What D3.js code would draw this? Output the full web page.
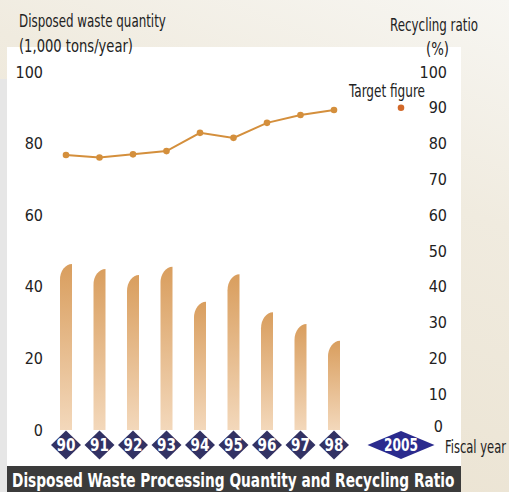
<!DOCTYPE html>
<html>
<head>
<meta charset="utf-8">
<script src="https://cdn.jsdelivr.net/npm/d3@7"></script>
<style>
  body { margin: 0; padding: 0; background: #f1ebde; }
  svg { display: block; }
  text { font-family: "Liberation Sans Narrow", "DejaVu Sans Condensed", "Arial Narrow", sans-serif; }
</style>
</head>
<body>
<div id="chart"></div>
<script>
// dimensions
var width = 509;
var height = 492;

// data
var years = ["90", "91", "92", "93", "94", "95", "96", "97", "98"];
var wasteQty = [46.4, 45.0, 43.3, 45.6, 35.8, 43.5, 32.9, 29.6, 24.9];
var recyclingRatio = [76.8, 76.1, 77.0, 77.9, 83.0, 81.6, 85.8, 88.0, 89.4];
var targetYear = "2005";
var targetRatio = 90;
var leftTicks = [0, 20, 40, 60, 80, 100];
var rightTicks = [0, 10, 20, 30, 40, 50, 60, 70, 80, 90, 100];

var svg = d3.select("#chart")
    .append("svg")
    .attr("width", width)
    .attr("height", height);

var defs = svg.append("defs");

var bg = defs.append("linearGradient")
    .attr("id", "bg")
    .attr("x1", "1").attr("y1", "0")
    .attr("x2", "0.6").attr("y2", "1");
bg.append("stop").attr("offset", "0%").attr("stop-color", "#f7f6f2");
bg.append("stop").attr("offset", "40%").attr("stop-color", "#f0ebdf");
bg.append("stop").attr("offset", "100%").attr("stop-color", "#ebe3d2");

var barGrad = defs.append("linearGradient")
    .attr("id", "barGrad")
    .attr("x1", "0").attr("y1", "0")
    .attr("x2", "0").attr("y2", "1");
barGrad.append("stop").attr("offset", "0%").attr("stop-color", "#d99e5e");
barGrad.append("stop").attr("offset", "100%").attr("stop-color", "#f3d8bb");

// background panels
svg.append("rect")
    .attr("width", width).attr("height", height)
    .attr("fill", "url(#bg)");
svg.append("rect")
    .attr("x", 0).attr("y", 79)
    .attr("width", 7).attr("height", height - 79)
    .attr("fill", "#e6e6e6");
svg.append("rect")
    .attr("x", 7).attr("y", 47)
    .attr("width", 454).attr("height", 419)
    .attr("fill", "#ffffff");

// scales
var x = d3.scalePoint()
    .domain(years.concat(["gap1", targetYear]))
    .range([66, 401]);

var yLeft = d3.scaleLinear().domain([0, 100]).range([430, 72]);
var yRight = d3.scaleLinear().domain([0, 100]).range([430, 72]);

// narrow text: the condensed face is squeezed sideways to the reference widths
function squeeze(parent, x0, y0, txt, len, opts) {
    opts = opts || {};
    var g = parent.append("g");
    var t = g.append("text")
        .attr("text-anchor", opts.anchor || "start")
        .attr("font-size", opts.size || "18px")
        .attr("font-weight", opts.weight || 400)
        .attr("fill", opts.fill || "#222")
        .text(txt);
    var s = len / t.node().getComputedTextLength();
    g.attr("transform", "translate(" + x0 + "," + y0 + ") scale(" + s + ",1)");
    return g;
}

// axis titles
squeeze(svg, 19, 27, "Disposed waste quantity", 147);
squeeze(svg, 19, 52, "(1,000 tons/year)", 114);
squeeze(svg, 478, 31, "Recycling ratio", 88, {anchor: "end"});
squeeze(svg, 449, 55, "(%)", 23, {anchor: "end"});

// left axis
var leftAxis = svg.append("g")
    .attr("transform", "translate(43,0)")
    .call(d3.axisLeft(yLeft).tickValues(leftTicks).tickSize(0).tickPadding(0));
leftAxis.select(".domain").remove();
leftAxis.selectAll("text")
    .attr("font-size", "16px")
    .attr("fill", "#222")
    .attr("font-family", null);

// right axis
var rightAxis = svg.append("g")
    .attr("transform", "translate(447,0)")
    .call(d3.axisLeft(yRight).tickValues(rightTicks).tickSize(0).tickPadding(0));
rightAxis.select(".domain").remove();
rightAxis.selectAll("text")
    .attr("font-size", "16px")
    .attr("fill", "#222")
    .attr("font-family", null);
// the right "0" sits a bit higher
rightAxis.selectAll(".tick")
    .filter(function (d) { return d === 0; })
    .select("text")
    .attr("dy", "0.1em")
    .attr("x", -4);

// bars with a rounded top-left corner
var barW = 12;
var ry = 16;
function barPath(d, i) {
    var cx = x(years[i]);
    var l = cx - barW / 2, r = cx + barW / 2;
    var top = yLeft(d), bottom = yLeft(0);
    return "M" + l + "," + bottom +
        "L" + l + "," + (top + ry) +
        "A" + barW + "," + ry + " 0 0 1 " + r + "," + top +
        "L" + r + "," + bottom + "Z";
}
svg.append("g")
    .selectAll("path")
    .data(wasteQty)
    .enter()
    .append("path")
    .attr("d", barPath)
    .attr("fill", "url(#barGrad)");

// recycling ratio line
var line = d3.line()
    .x(function (d, i) { return x(years[i]); })
    .y(function (d) { return yRight(d); });
svg.append("path")
    .datum(recyclingRatio)
    .attr("d", line)
    .attr("fill", "none")
    .attr("stroke", "#d48f3c")
    .attr("stroke-width", 2);
svg.append("g")
    .selectAll("circle")
    .data(recyclingRatio)
    .enter()
    .append("circle")
    .attr("cx", function (d, i) { return x(years[i]); })
    .attr("cy", function (d) { return yRight(d); })
    .attr("r", 3.3)
    .attr("fill", "#d48f3c");

// target
svg.append("circle")
    .attr("cx", x(targetYear))
    .attr("cy", yRight(targetRatio))
    .attr("r", 3.3)
    .attr("fill", "#d2692a");
squeeze(svg, 425, 97, "Target figure", 76, {anchor: "end"});

// year diamonds
var dy = 445;
var diamondText = {anchor: "middle", size: "17px", weight: 700, fill: "#ffffff"};
years.forEach(function (d) {
    svg.append("path")
        .attr("transform", "translate(" + x(d) + "," + dy + ")")
        .attr("d", "M-15,0L0,-14.5L15,0L0,14.5Z")
        .attr("fill", "#323264");
    squeeze(svg, x(d), dy + 6, d, 19, diamondText);
});

svg.append("path")
    .attr("transform", "translate(" + x(targetYear) + "," + dy + ")")
    .attr("d", "M-33.5,0L0,-14L33.5,0L0,14Z")
    .attr("fill", "#2b2b8e");
squeeze(svg, x(targetYear), dy + 6, targetYear, 34, diamondText);

squeeze(svg, 445, 453, "Fiscal year", 61);

// title bar
svg.append("rect")
    .attr("x", 7).attr("y", 466)
    .attr("width", 454).attr("height", 26)
    .attr("fill", "#3b3b3b");
squeeze(svg, 12, 487, "Disposed Waste Processing Quantity and Recycling Ratio", 443,
    {size: "19px", weight: 700, fill: "#ffffff"});
</script>
</body>
</html>
